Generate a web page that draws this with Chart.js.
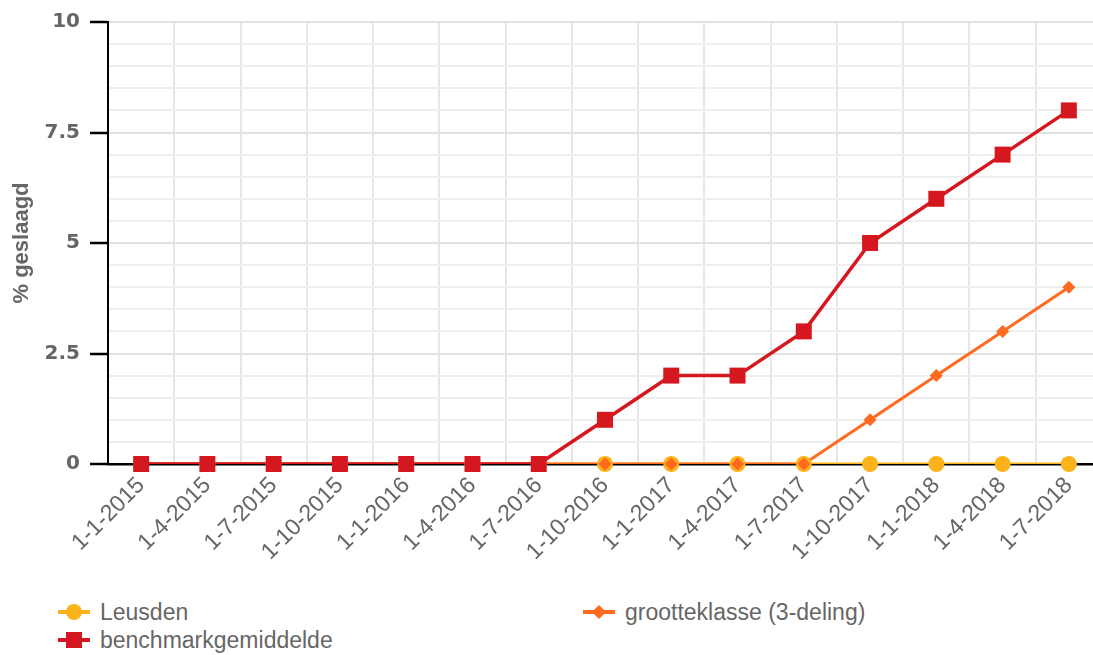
<!DOCTYPE html>
<html lang="nl">
<head>
<meta charset="UTF-8">
<title>% geslaagd</title>
<script src="https://cdn.jsdelivr.net/npm/chart.js"></script>
<style>
    html, body {
        margin: 0;
        padding: 0;
        background: #fff;
        overflow: hidden;
        width: 1093px;
        height: 655px;
    }
    #chart {
        position: absolute;
        left: 0;
        top: 0;
    }
    .legend {
        position: absolute;
        left: 58px;
        top: 600px;
        width: 1000px;
        display: grid;
        grid-template-columns: 525px 400px;
        row-gap: 4px;
        font-family: "Liberation Sans", Arial, sans-serif;
        font-size: 23px;
        color: #666;
    }
    .item {
        display: flex;
        align-items: center;
        height: 24px;
    }
    .marker {
        position: relative;
        width: 32px;
        height: 18px;
        margin-right: 10px;
    }
    .marker .line {
        position: absolute;
        left: 0;
        top: 7px;
        width: 32px;
        height: 4px;
    }
    .marker .dot {
        position: absolute;
    }
</style>
</head>
<body>
<canvas id="chart" width="1102" height="590"></canvas>
<div class="legend" id="legend"></div>

<script>
    const labels = ['1-1-2015', '1-4-2015', '1-7-2015', '1-10-2015', '1-1-2016', '1-4-2016', '1-7-2016',
        '1-10-2016', '1-1-2017', '1-4-2017', '1-7-2017', '1-10-2017', '1-1-2018', '1-4-2018', '1-7-2018'];

    const leusden = [0, 0, 0, 0, 0, 0, 0, 0, 0, 0, 0, 0, 0, 0, 0];
    const grootteklasse = [0, 0, 0, 0, 0, 0, 0, 0, 0, 0, 0, 1, 2, 3, 4];
    const benchmark = [0, 0, 0, 0, 0, 0, 0, 1, 2, 2, 3, 5, 6, 7, 8];

    const yellow = '#fbb31b';
    const orange = '#ff6a1f';
    const red = '#d5171f';

    const isMajor = v => Math.abs(v / 2.5 - Math.round(v / 2.5)) < 1e-6;

    // each series: a line (clipped at the plot bottom, so the black axis stays visible)
    // and its markers (not clipped)
    const series = [
        { label: 'Leusden', data: leusden, color: yellow, style: 'circle', r: 8, width: 3, order: 2 },
        { label: 'grootteklasse (3-deling)', data: grootteklasse, color: orange, style: 'rectRot', r: 6.5, width: 3, order: 1 },
        { label: 'benchmarkgemiddelde', data: benchmark, color: red, style: 'rect', r: 11.3, width: 3.5, order: 0 }
    ];
    const datasets = [];
    series.forEach(s => {
        datasets.push({
            label: s.label,
            data: s.data,
            borderColor: s.color,
            borderWidth: s.width,
            pointRadius: 0,
            clip: { left: false, top: false, right: false, bottom: 0 },
            order: 3 + s.order
        });
        datasets.push({
            label: s.label + ' markers',
            data: s.data,
            showLine: false,
            backgroundColor: s.color,
            borderColor: s.color,
            pointStyle: s.style,
            pointRadius: s.r,
            pointBorderWidth: 0,
            clip: false,
            order: s.order
        });
    });

    const ctx = document.getElementById('chart').getContext('2d');
    const chart = new Chart(ctx, {
        type: 'line',
        data: {
            labels: labels,
            datasets: datasets
        },
        options: {
            responsive: false,
            animation: false,
            layout: { autoPadding: false, padding: { top: 22, right: 0, left: 0, bottom: 0 } },
            plugins: {
                legend: { display: false },
                tooltip: { enabled: false }
            },
            scales: {
                x: {
                    offset: true,
                    grid: {
                        offset: true,
                        color: '#e6e6e6',
                        lineWidth: 2,
                        drawTicks: false
                    },
                    border: { color: '#000', width: 2.5 },
                    ticks: {
                        autoSkip: false,
                        minRotation: 45,
                        maxRotation: 45,
                        padding: 8,
                        color: '#666',
                        font: { family: '"Liberation Sans", Arial, sans-serif', size: 23 }
                    },
                    afterFit: s => {
                        s.height = 126;
                        s.paddingLeft = 0;
                        s.paddingRight = 0;
                    }
                },
                y: {
                    min: 0,
                    max: 10,
                    grid: {
                        color: c => isMajor(c.tick.value) ? '#e2e2e2' : '#eeeeee',
                        lineWidth: 2,
                        tickLength: 18,
                        tickColor: c => isMajor(c.tick.value) ? '#000' : 'rgba(0,0,0,0)',
                        tickWidth: 2.5
                    },
                    border: { color: '#000', width: 2 },
                    ticks: {
                        stepSize: 0.5,
                        autoSkip: false,
                        padding: 10,
                        color: '#666',
                        font: { family: '"DejaVu Sans", sans-serif', size: 20, weight: 'bold' },
                        callback: v => isMajor(v) ? String(v) : ''
                    },
                    title: {
                        display: true,
                        text: '% geslaagd',
                        color: '#666',
                        padding: { top: 9, bottom: 0 },
                        font: { family: '"Liberation Sans", Arial, sans-serif', size: 22, weight: 'bold' }
                    },
                    afterFit: s => { s.width = 108; }
                }
            }
        }
    });

    // legend in two columns, same order as the reference
    const legendItems = [
        { text: 'Leusden', color: yellow, shape: 'circle' },
        { text: 'grootteklasse (3-deling)', color: orange, shape: 'diamond' },
        { text: 'benchmarkgemiddelde', color: red, shape: 'square' }
    ];
    const legend = document.getElementById('legend');
    legendItems.forEach(it => {
        const el = document.createElement('div');
        el.className = 'item';
        let dot;
        if (it.shape === 'circle') {
            dot = `left:8px;top:1px;width:16px;height:16px;border-radius:50%;`;
        } else if (it.shape === 'square') {
            dot = `left:8px;top:1px;width:16px;height:16px;`;
        } else {
            dot = `left:11px;top:4px;width:10px;height:10px;transform:rotate(45deg);`;
        }
        el.innerHTML = `<div class="marker"><div class="line" style="background:${it.color}"></div>` +
            `<div class="dot" style="${dot}background:${it.color}"></div></div><span>${it.text}</span>`;
        legend.appendChild(el);
    });
</script>
</body>
</html>
